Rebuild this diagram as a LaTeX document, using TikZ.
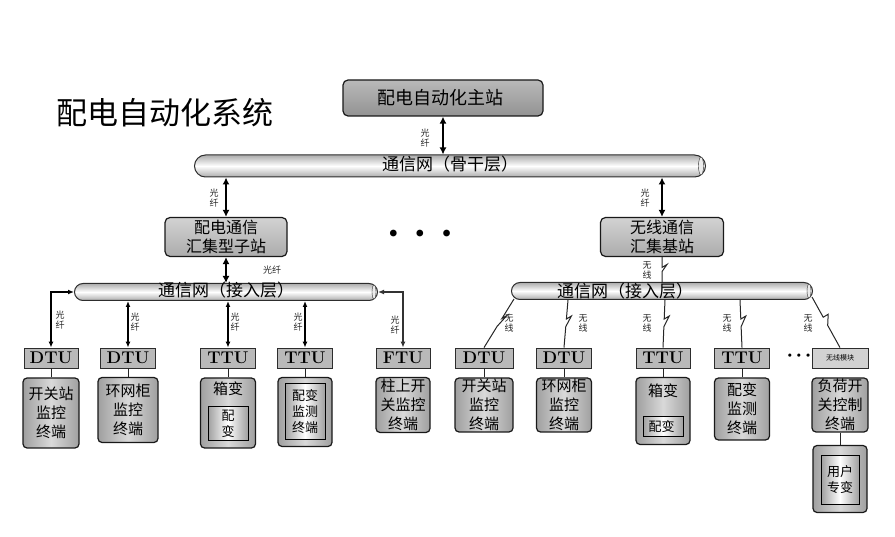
\documentclass[tikz,border=0pt]{standalone}
\usepackage{fontspec}
\newfontfamily\cjk{Noto Sans CJK SC}
\usetikzlibrary{arrows.meta,positioning,shapes.misc,calc}

\begin{document}
\begin{tikzpicture}[x=1pt, y=-1pt,
    every node/.style={inner sep=1pt, font=\cjk},
    station/.style={rectangle, rounded corners=5pt, draw=gray!20!black, line width=1.2pt,
        top color=gray!55, bottom color=gray!85, align=center},
    tube/.style={rounded rectangle, draw=gray!35!black, line width=1pt, inner sep=0pt,
        top color=gray!65, bottom color=gray!65, middle color=white,
        text height=11, text depth=2, font=\cjk\fontsize{17}{17}\selectfont},
    devbox/.style={rectangle, draw=gray!35!black, line width=0.8pt, fill=gray!55,
        minimum height=20, inner sep=0pt, font=\rmfamily\bfseries\fontsize{17}{17}\selectfont},
    term/.style={rectangle, rounded corners=4pt, draw=gray!20!black, line width=1.2pt,
        left color=gray!75, right color=gray!75, middle color=gray!30,
        align=center, font=\cjk\fontsize{15}{19}\selectfont},
    inbox/.style={rectangle, draw=black, line width=1pt,
        left color=gray!75, right color=gray!75, middle color=white,
        align=center, font=\cjk\fontsize{13}{16}\selectfont},
    lbl/.style={align=center, inner sep=0pt, font=\cjk\fontsize{9}{10}\selectfont, text=gray!30!black},
    trunk/.style={{Latex[length=7pt,width=7pt]}-{Latex[length=7pt,width=7pt]}, line width=2.6pt},
    fiber/.style={{Latex[length=6pt,width=5pt]}-{Latex[length=6pt,width=5pt]}, line width=1.2pt},
    wless/.style={draw=gray!30!black, line width=1pt},
    radio/.style={to path={-- ($(\tikztostart)!0.40!(\tikztotarget)$) -- ++(5,-3)
        -- ($(\tikztostart)!0.56!(\tikztotarget)$) -- (\tikztotarget)}},
    tie/.style={draw=gray!30!black, line width=0.8pt}
]
    \useasboundingbox (0,0) rectangle (895,537);

    \node (title) [font=\cjk\fontsize{31}{31}\selectfont] at (165,113)
    {
        配电自动化系统
    };

    % upper levels
    \node (master_station) [station, minimum width=200, minimum height=36,
        font=\cjk\fontsize{18}{18}\selectfont] at (443,98)
    {
        配电自动化主站
    };
    \node (backbone_net) [tube, minimum width=511, minimum height=22] at (450,166)
    {
        通信网（骨干层）
    };
    \draw[draw=gray!35!black, fill=gray!15] ([xshift=-5pt]backbone_net.east) ellipse [x radius=2.5pt, y radius=9pt];

    \node (sub_station) [station, minimum width=122, minimum height=39, top color=gray!35,
        bottom color=gray!65, font=\cjk\fontsize{16}{19}\selectfont] at (226,237)
    {
        配电通信\\汇集型子站
    };
    \node (base_station) [station, minimum width=123, minimum height=39, top color=gray!35,
        bottom color=gray!65, font=\cjk\fontsize{16}{19}\selectfont] at (662,237)
    {
        无线通信\\汇集基站
    };
    \node (dots_mid) [font=\rmfamily\fontsize{30}{30}\selectfont] at (420,236)
    {
        \textbullet\,\textbullet\,\textbullet
    };

    \node (access_left) [tube, minimum width=303, minimum height=17] at (226,292)
    {
        通信网（接入层）
    };
    \node (access_right) [tube, minimum width=301, minimum height=17] at (662,291) {};
    \node (access_right_txt) [font=\cjk\fontsize{17}{17}\selectfont] at (625,291)
    {
        通信网（接入层）
    };
    \draw[draw=gray!35!black, fill=gray!15] ([xshift=-4pt]access_left.east) ellipse [x radius=2pt, y radius=7pt];
    \draw[draw=gray!35!black, fill=gray!15] ([xshift=-4pt]access_right.east) ellipse [x radius=2pt, y radius=7pt];

    % left side: fibre terminals
    \node (dtu_l1) [devbox, minimum width=54] at (51,358) {DTU};
    \node (dtu_l2) [devbox, minimum width=55] at (128,358) {DTU};
    \node (ttu_l1) [devbox, minimum width=55] at (228,358) {TTU};
    \node (ttu_l2) [devbox, minimum width=55] at (305,358) {TTU};
    \node (ftu_l) [devbox, minimum width=54] at (403,358) {FTU};

    \node (term_l1) [term, minimum width=56, minimum height=70] at (51,413)
    {
        开关站\\监控\\终端
    };
    \node (term_l2) [term, minimum width=60, minimum height=65] at (128,410)
    {
        环网柜\\监控\\终端
    };
    \node (term_l3) [term, minimum width=55, minimum height=70] at (228,413) {};
    \node (term_l3_txt) [font=\cjk\fontsize{15}{15}\selectfont] at (228,389) {箱变};
    \node (term_l3_in) [inbox, minimum width=40, minimum height=34] at (228,424)
    {
        配\\变
    };
    \node (term_l4) [term, minimum width=54, minimum height=69] at (305,412) {};
    \node (term_l4_in) [inbox, minimum width=40, minimum height=56] at (305,412)
    {
        配变\\监测\\终端
    };
    \node (term_l5) [term, minimum width=54, minimum height=55] at (403,405)
    {
        柱上开\\关监控\\终端
    };

    % right side: wireless terminals
    \node (dtu_r1) [devbox, minimum width=58] at (484,358) {DTU};
    \node (dtu_r2) [devbox, minimum width=55] at (564,358) {DTU};
    \node (ttu_r1) [devbox, minimum width=54] at (663,358) {TTU};
    \node (ttu_r2) [devbox, minimum width=55] at (742,358) {TTU};
    \node (dots_right) [font=\rmfamily\fontsize{12}{12}\selectfont] at (799,356)
    {
        \textbullet\textbullet\textbullet
    };
    \node (radio_module) [devbox, minimum width=56, fill=gray!35,
        font=\cjk\fontsize{7}{8}\selectfont] at (840,358)
    {
        无线模块
    };

    \node (term_r1) [term, minimum width=58, minimum height=54] at (484,405)
    {
        开关站\\监控\\终端
    };
    \node (term_r2) [term, minimum width=55, minimum height=54] at (564,405)
    {
        环网柜\\监控\\终端
    };
    \node (term_r3) [term, minimum width=54, minimum height=67] at (663,411) {};
    \node (term_r3_txt) [font=\cjk\fontsize{15}{15}\selectfont] at (663,391) {箱变};
    \node (term_r3_in) [inbox, minimum width=40, minimum height=20] at (663,427)
    {
        配变
    };
    \node (term_r4) [term, minimum width=55, minimum height=62] at (742,409)
    {
        配变\\监测\\终端
    };
    \node (term_r5) [term, minimum width=56, minimum height=54] at (840,405)
    {
        负荷开\\关控制\\终端
    };
    \node (user_box) [term, minimum width=54, minimum height=67] at (840,479) {};
    \node (user_box_in) [inbox, minimum width=38, minimum height=48] at (840,480)
    {
        用户\\专变
    };

    % trunk links
    \draw[trunk] (master_station.south) -- (master_station.south |- backbone_net.north);
    \draw[trunk] (backbone_net.south -| sub_station.north) -- (sub_station.north);
    \draw[trunk] (backbone_net.south -| base_station.north) -- (base_station.north);
    \draw[trunk, line width=2pt] (sub_station.south) -- (sub_station.south |- access_left.north);

    \node (lbl_master) [lbl] at (425,138) {光\\纤};
    \node (lbl_sub) [lbl] at (214,198) {光\\纤};
    \node (lbl_base) [lbl] at (645,198) {光\\纤};
    \node (lbl_sub_down) [lbl] at (272,270) {光纤};

    % fibre links
    \draw[fiber] (access_left.west) -| (dtu_l1.north);
    \draw[fiber] (access_left.south -| dtu_l2.north) -- (dtu_l2.north);
    \draw[fiber] (access_left.south -| ttu_l1.north) -- (ttu_l1.north);
    \draw[fiber] (access_left.south -| ttu_l2.north) -- (ttu_l2.north);
    \draw[fiber, draw=gray!40!black] (access_left.east) -| (ftu_l.north);

    \node (lbl_dtu_l1) [lbl] at (60,320) {光\\纤};
    \node (lbl_dtu_l2) [lbl] at (135,322) {光\\纤};
    \node (lbl_ttu_l1) [lbl] at (235,322) {光\\纤};
    \node (lbl_ttu_l2) [lbl] at (298,322) {光\\纤};
    \node (lbl_ftu_l) [lbl] at (395,325) {光\\纤};

    % wireless links
    \coordinate (tap_base) at (662,283);
    \coordinate (tap_r1) at (514,299);
    \coordinate (tap_r2) at (568,300);
    \coordinate (tap_r3) at (665,300);
    \coordinate (tap_r4) at (740,300);
    \coordinate (tap_r5) at (812,297);

    \draw[wless, radio] (base_station.south) to (tap_base);
    \draw[wless, radio] (tap_r1) to (dtu_r1.north);
    \draw[wless, radio] (tap_r2) to (dtu_r2.north);
    \draw[wless, radio] (tap_r3) to (ttu_r1.north);
    \draw[wless, radio] (tap_r4) to (ttu_r2.north);
    \draw[wless, radio] (tap_r5) to (radio_module.north);

    \node (lbl_base_down) [lbl] at (647,270) {无\\线};
    \node (lbl_r1) [lbl] at (509,323) {无\\线};
    \node (lbl_r2) [lbl] at (583,323) {无\\线};
    \node (lbl_r3) [lbl] at (647,323) {无\\线};
    \node (lbl_r4) [lbl] at (727,323) {无\\线};
    \node (lbl_r5) [lbl] at (808,323) {无\\线};

    % drops to terminals
    \draw[tie] (dtu_l1) -- (term_l1);
    \draw[tie] (dtu_l2) -- (term_l2);
    \draw[tie] (ttu_l1) -- (term_l3);
    \draw[tie] (ttu_l2) -- (term_l4);
    \draw[tie] (dtu_r1) -- (term_r1);
    \draw[tie] (dtu_r2) -- (term_r2);
    \draw[tie] (ttu_r1) -- (term_r3);
    \draw[tie] (ttu_r2) -- (term_r4);
    \draw[tie] (term_r5) -- (user_box);

\end{tikzpicture}
\end{document}
